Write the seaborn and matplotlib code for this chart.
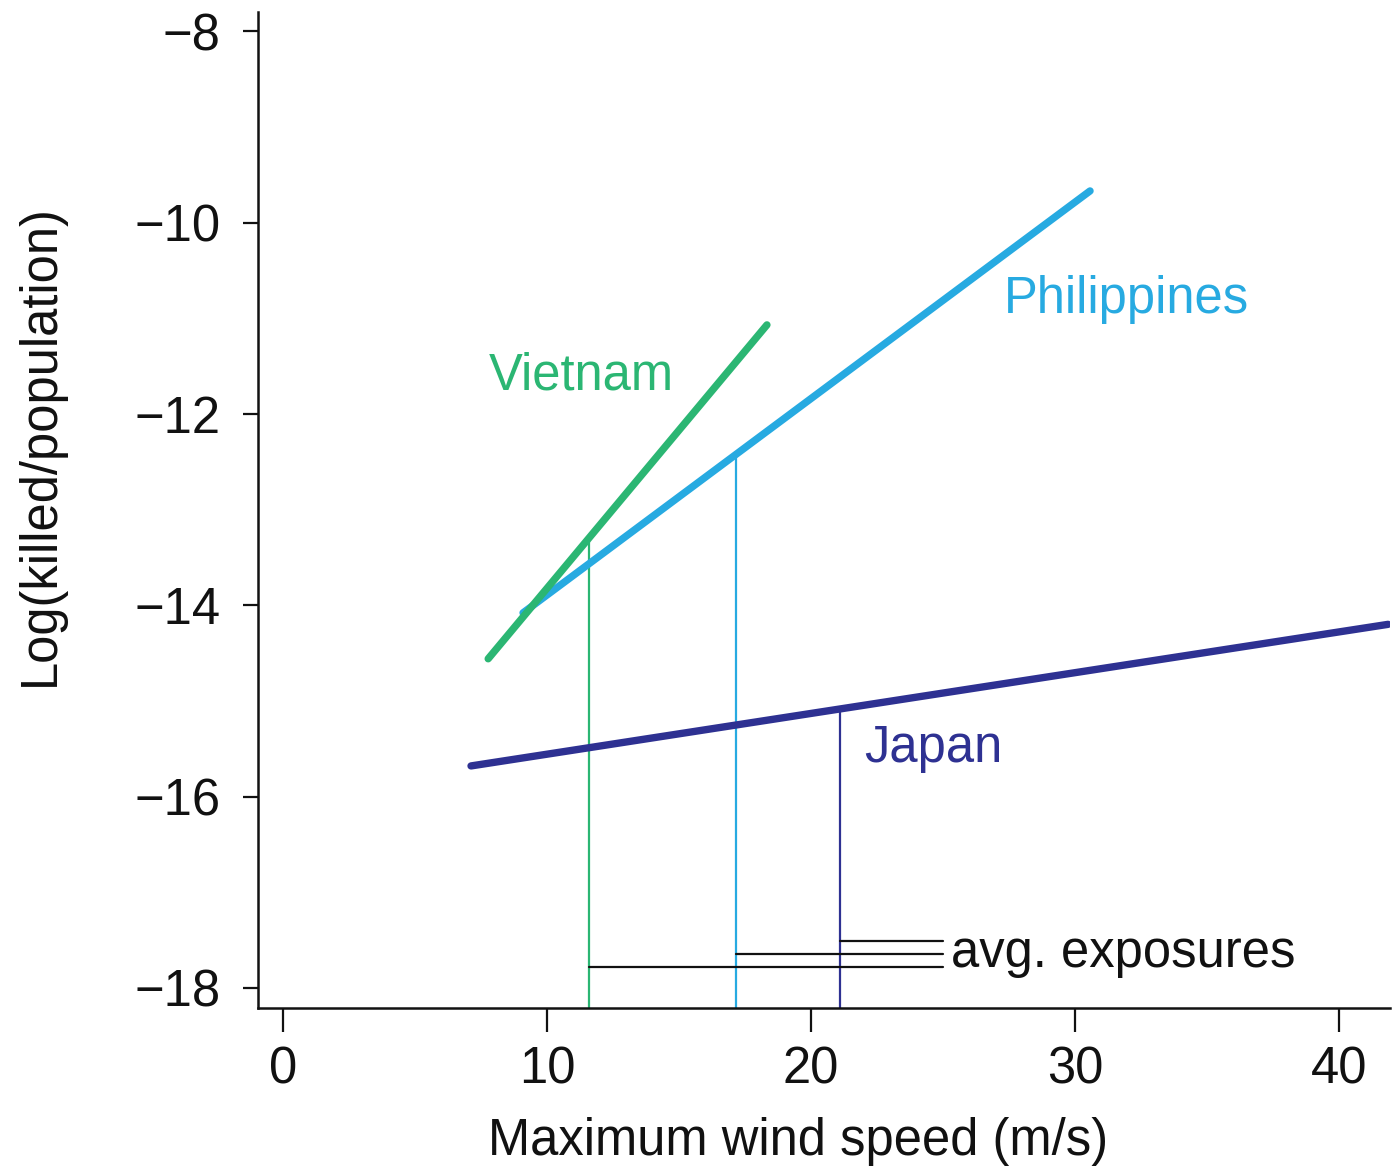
import numpy as np
import pandas as pd
import matplotlib
matplotlib.use("Agg")
import matplotlib.pyplot as plt
import seaborn as sns

# Fitted mortality lines: wind speed (m/s) vs log(killed/population)
countries = ["Vietnam", "Philippines", "Japan"]
wind_start = [7.77, 9.09, 7.12]
wind_end = [18.33, 30.57, 41.86]
log_start = [-14.56, -14.08, -15.68]
log_end = [-11.07, -9.67, -14.20]

# Average exposure wind speed per country and the fitted value there
avg_exposure = [11.6, 17.16, 21.1]
avg_log = [-13.30, -12.42, -15.08]
bracket_y = [-17.78, -17.65, -17.51]
bracket_end = 25.0

colors = {"Vietnam": "#2bb673", "Philippines": "#27aae1", "Japan": "#2e3192"}

x_ticks = [0, 10, 20, 30, 40]
y_ticks = [-8, -10, -12, -14, -16, -18]

rows = []
for c, x0, x1, y0, y1 in zip(countries, wind_start, wind_end, log_start, log_end):
    rows.append({"country": c, "wind": x0, "logk": y0})
    rows.append({"country": c, "wind": x1, "logk": y1})
df = pd.DataFrame(rows)

sns.set_theme(style="ticks")
plt.rcParams["font.family"] = ["Liberation Sans", "DejaVu Sans"]
plt.rcParams["text.color"] = "black"
plt.rcParams["axes.labelcolor"] = "black"
plt.rcParams["xtick.color"] = "black"
plt.rcParams["ytick.color"] = "black"

FS = 36.5
INK = "#111111"

fig = plt.figure(figsize=(13.93, 11.68), dpi=100)
ax = fig.add_axes([0.1852, 0.1370, 0.8126, 0.8527])

# Drop lines from the average exposure up to each fitted line
for c, xe, ye in zip(countries, avg_exposure, avg_log):
    ax.plot([xe, xe], [-18.3, ye], color=colors[c], lw=1.6, zorder=2)

# Brackets leading to the "avg. exposures" note
for xe, yb in zip(avg_exposure, bracket_y):
    ax.plot([xe, bracket_end], [yb, yb], color=INK, lw=1.6, zorder=2)

sns.lineplot(data=df, x="wind", y="logk", hue="country", palette=colors,
             hue_order=["Japan", "Philippines", "Vietnam"],
             linewidth=5.3, legend=False, ax=ax, zorder=3,
             solid_capstyle="round")

ax.text(7.8, -11.6, "Vietnam", color=colors["Vietnam"], fontsize=FS,
        ha="left", va="center")
ax.text(27.3, -10.8, "Philippines", color=colors["Philippines"], fontsize=FS,
        ha="left", va="center")
ax.text(22.0, -15.5, "Japan", color=colors["Japan"], fontsize=FS,
        ha="left", va="center")
ax.text(25.3, -17.64, "avg. exposures", color=INK, fontsize=FS,
        ha="left", va="center")

ax.set_xlim(-0.95, 41.93)
ax.set_ylim(-18.21, -7.80)
ax.set_xticks(x_ticks)
ax.set_yticks(y_ticks)
ax.set_yticklabels([f"\u2212{abs(v)}" for v in y_ticks])
ax.tick_params(axis="x", length=17, width=1.6, labelsize=FS, pad=10,
               color=INK, labelcolor=INK)
ax.tick_params(axis="y", length=11, width=1.6, labelsize=FS, pad=16,
               color=INK, labelcolor=INK)
ax.xaxis.get_major_ticks()[0].tick1line.set_color(colors["Japan"])

for s in ["left", "bottom"]:
    ax.spines[s].set_linewidth(1.8)
    ax.spines[s].set_color(INK)
sns.despine(ax=ax)

ax.set_xlabel("Maximum wind speed (m/s)", fontsize=FS, labelpad=16, color=INK)
ax.set_ylabel("Log(killed/population)", fontsize=FS, labelpad=50, color=INK)
ax.xaxis.label.set_x(0.477)
ax.yaxis.label.set_y(0.565)

fig.savefig("out.png", dpi=100)
